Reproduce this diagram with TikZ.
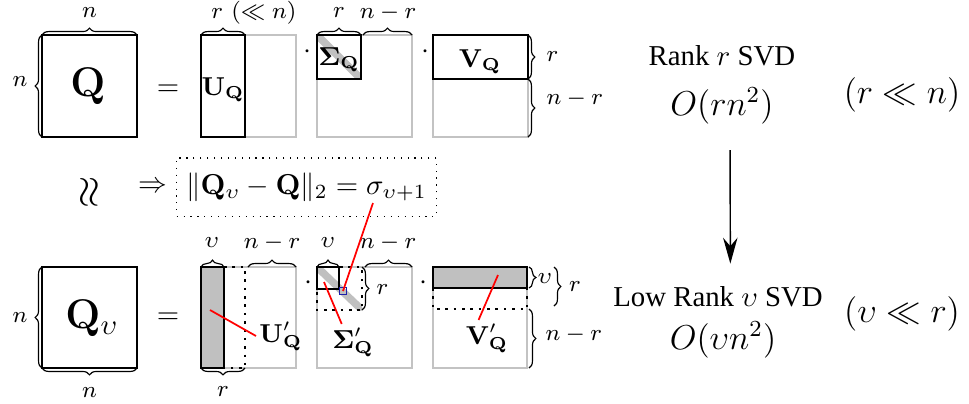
\documentclass[tikz,border=0pt]{standalone}
\usepackage[no-math]{fontspec}
\newfontfamily\timesfont{Liberation Serif}
\usepackage{amsmath}
\usepackage{amssymb}
\usepackage{tikz}
\usetikzlibrary{arrows.meta, positioning, calc, decorations.pathreplacing}
\definecolor{myframe}{RGB}{195,195,195}
\definecolor{myfill}{RGB}{192,192,192}
\definecolor{myred}{RGB}{255,0,0}
\definecolor{myblue}{RGB}{30,30,170}
\tikzset{
  outer/.style={draw=myframe, line width=0.8pt},
  part/.style={draw=black, line width=0.9pt},
  dotpart/.style={draw=black, line width=0.9pt, dotted},
  band/.style={draw=myfill, line width=2.6pt},
  brc/.style={decorate, decoration={brace, amplitude=2.4pt}, line width=0.4pt},
  dim/.style={font=\footnotesize, inner sep=0pt},
  lbl/.style={font=\small, inner sep=1pt},
  dotop/.style={inner sep=0pt},
  pointer/.style={draw=myred, line width=0.6pt},
  arrow/.style={-{Stealth[length=9pt, width=5pt]}, line width=0.5pt}
}

\begin{document}
\begin{tikzpicture}[x=0.0122cm, y=-0.0122cm]
  \useasboundingbox (0,0) rectangle (969,403);

  % Rank r row
  \draw[part] (42,35) rectangle (137,137);
  \node[font=\Large] (q) at (88,86) {$\mathbf{Q}$};
  \draw[brc] (42,35) -- (137,35);
  \draw[brc] (42,137) -- (42,35);
  \node[dim] (qn1) at (89.5,13) {$n$};
  \node[dim] (qn2) at (20,82) {$n$};
  \node (eq1) at (168,90) {$=$};

  \draw[outer] (201,35) rectangle (296,137);
  \draw[part] (201,35) rectangle (245,137);
  \node[lbl] (uq) at (223,90) {$\mathbf{U_Q}$};
  \draw[brc] (201,35) -- (245,35);
  \node[dim] (ur) at (254,13) {$r\ (\ll n)$};
  \node[dotop] (d1) at (307,52) {$\cdot$};

  \draw[outer] (317,35) rectangle (412,137);
  \begin{scope}
    \clip (317,35) rectangle (361,79);
    \draw[band] (317,35) -- (361,79);
  \end{scope}
  \draw[part] (317,35) rectangle (361,79);
  \node[lbl] (sq) at (339,60) {$\mathbf{\Sigma_Q}$};
  \draw[brc] (317,35) -- (361,35);
  \draw[brc] (363,35) -- (412,35);
  \node[dim] (sr) at (339,13) {$r$};
  \node[dim] (snr) at (388,13) {$n-r$};
  \node[dotop] (d2) at (425,52) {$\cdot$};

  \draw[outer] (433,35) rectangle (528,137);
  \draw[part] (433,35) rectangle (528,79);
  \node[lbl] (vq) at (480,62) {$\mathbf{V_Q}$};
  \draw[brc] (528,35) -- (528,79);
  \draw[brc] (528,79) -- (528,137);
  \node[dim, anchor=west] (vr) at (546,57) {$r$};
  \node[dim, anchor=west] (vnr) at (546,99) {$n-r$};

  % error bound
  \node[font=\Large, rotate=90] (approx) at (90,192) {$\approx$};
  \node (imp) at (153,187) {$\Rightarrow$};
  \node[draw, dotted, minimum width=3.09cm, minimum height=0.71cm] (err) at (306.5,187)
    {$\|\mathbf{Q}_\upsilon-\mathbf{Q}\|_2=\sigma_{\upsilon+1}$};
  \coordinate (sig) at (373,203);

  % Rank v row
  \draw[part] (42,267) rectangle (137,368);
  \node[font=\Large] (qv) at (92,318) {$\mathbf{Q}_\upsilon$};
  \draw[brc] (42,368) -- (42,267);
  \draw[brc] (137,368) -- (42,368);
  \node[dim] (qvn1) at (20,318) {$n$};
  \node[dim] (qvn2) at (89.5,393) {$n$};
  \node (eq2) at (168,318) {$=$};

  \draw[outer] (201,267) rectangle (296,368);
  \draw[dotpart] (224,267) -- (245,267) -- (245,368) -- (224,368);
  \draw[part, fill=myfill] (201,267) rectangle (224,368);
  \draw[brc] (201,267) -- (224,267);
  \draw[brc] (248,267) -- (296,267);
  \draw[brc] (245,368) -- (201,368);
  \node[dim] (uv) at (212,243) {$\upsilon$};
  \node[dim] (unr) at (272,243) {$n-r$};
  \node[dim] (urb) at (223,392) {$r$};
  \node[lbl, anchor=west] (uqv) at (256,336) {$\mathbf{U}'_{\mathbf{Q}}$};
  \coordinate (upt) at (210,310);
  \draw[pointer] (upt) -- (uqv.west);
  \node[dotop] (d3) at (308,283) {$\cdot$};

  \draw[outer] (317,267) rectangle (412,368);
  \begin{scope}
    \clip (317,267) rectangle (362,310);
    \draw[band] (317,267) -- (362,310);
  \end{scope}
  \draw[dotpart] (317,267) rectangle (362,310);
  \draw[part] (317,267) rectangle (339,289);
  \node[draw=myblue, line width=0.4pt, minimum size=0.085cm, inner sep=0pt] (blu) at (343,291) {};
  \draw[brc] (317,267) -- (339,267);
  \draw[brc] (365,267) -- (412,267);
  \draw[brc] (362,267) -- (362,310);
  \node[dim] (sv) at (328,243) {$\upsilon$};
  \node[dim] (snr2) at (388,243) {$n-r$};
  \node[dim, anchor=west] (srr) at (376,290) {$r$};
  \node[lbl] (sqv) at (353,342) {$\mathbf{\Sigma}'_{\mathbf{Q}}$};
  \coordinate (spt) at (324,282);
  \draw[pointer] (spt) -- (sqv.122);
  \draw[pointer] (sig) -- (blu.center);
  \node[dotop] (d4) at (423,283) {$\cdot$};

  \draw[outer] (433,267) rectangle (527,368);
  \draw[dotpart] (433,288) -- (433,309) -- (527,309) -- (527,288);
  \draw[part, fill=myfill] (433,267) rectangle (527,288);
  \draw[brc] (529,267) -- (529,288);
  \draw[brc] (554,267) -- (554,306);
  \draw[brc] (529,309) -- (529,368);
  \node[dim] (vv) at (545,279) {$\upsilon$};
  \node[dim] (vrr) at (575,287) {$r$};
  \node[dim, anchor=west] (vnr2) at (545,335) {$n-r$};
  \node[lbl] (vqv) at (487,338) {$\mathbf{V}'_{\mathbf{Q}}$};
  \coordinate (vpt) at (498,275);
  \draw[pointer] (vpt) -- (vqv.115);

  % cost
  \node (rk) at (722,56) {\timesfont Rank $r$ SVD};
  \node[font=\large] (ocost) at (722,106) {$O(rn^2)$};
  \node[font=\large] (rcond) at (902,95) {$(r\ll n)$};
  \node (lrk) at (718,297) {\timesfont Low Rank $\upsilon$ SVD};
  \node[font=\large] (lcost) at (723,340) {$O(\upsilon n^2)$};
  \node[font=\large] (vcond) at (902,314) {$(\upsilon\ll r)$};
  \draw[arrow, shorten <=5.5pt, shorten >=4.5pt] ([xshift=2.8pt]ocost.south) -- ([xshift=4.3pt]lrk.north);
\end{tikzpicture}
\end{document}
